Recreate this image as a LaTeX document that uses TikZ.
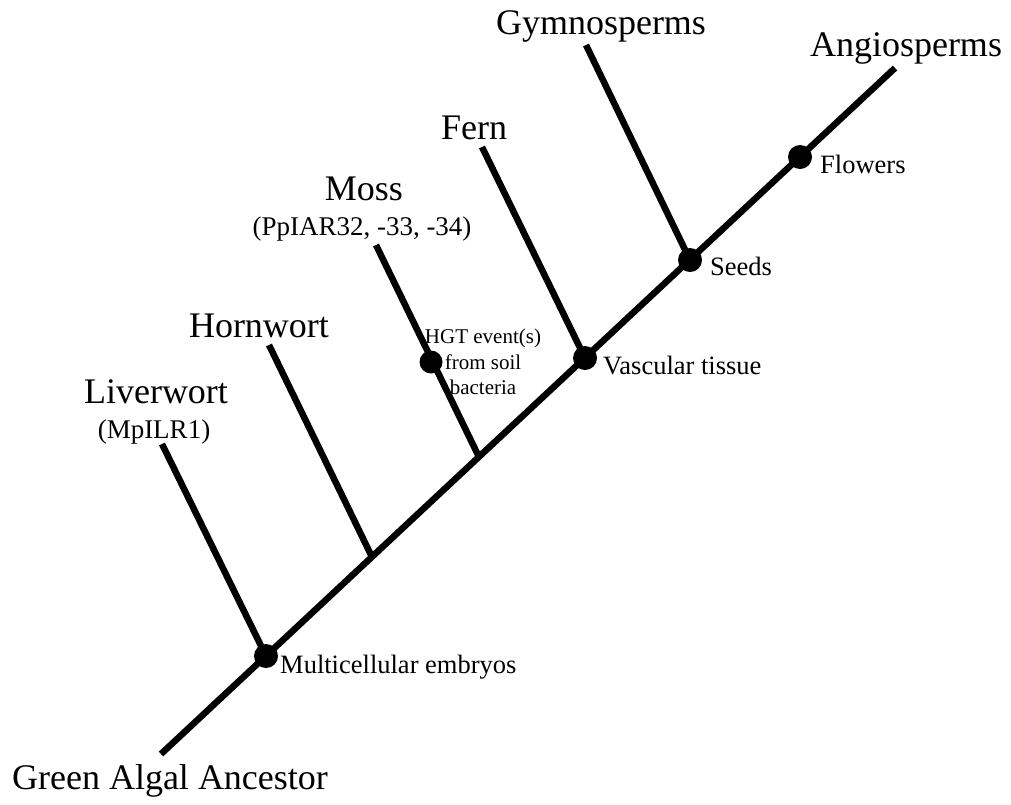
\documentclass[tikz,border=0pt]{standalone}
\usepackage{fontspec}
\setmainfont{Liberation Serif}
\begin{document}
\begin{tikzpicture}[x=1pt,y=-1pt,
  branch/.style={line width=6.5pt},
  dot/.style={circle,fill=black,inner sep=0pt,minimum size=24pt},
  big/.style={font=\fontsize{36}{40}\selectfont,anchor=base,inner sep=0pt},
  sub/.style={font=\fontsize{27}{30}\selectfont,anchor=base,inner sep=0pt},
  small/.style={font=\fontsize{26.5}{30}\selectfont,anchor=base west,inner sep=0pt},
  tiny/.style={font=\fontsize{21}{25.5}\selectfont,anchor=base,inner sep=0pt}]
\useasboundingbox (0,0) rectangle (1011,804);
% main stem
\coordinate (root) at (161,754);
\coordinate (top) at (895,68);
\coordinate (emb) at (266,656);
\coordinate (jh) at (372,557);
\coordinate (jm) at (479,457);
\coordinate (vas) at (585,358);
\coordinate (seed) at (690,260);
\coordinate (flw) at (800,157);
% branch tips
\coordinate (tl) at (162,444);
\coordinate (th) at (269,345);
\coordinate (tm) at (376,245);
\coordinate (tf) at (482,147);
\coordinate (tg) at (586,45);
\coordinate (hgt) at (431,362);
\draw[branch] (root) -- (top);
\draw[branch] (tl) -- (emb);
\draw[branch] (th) -- (jh);
\draw[branch] (tm) -- (jm);
\draw[branch] (tf) -- (vas);
\draw[branch] (tg) -- (seed);
\node[dot] (dEmb) at (emb) {};
\node[dot] (dVas) at (vas) {};
\node[dot] (dSeed) at (seed) {};
\node[dot] (dFlw) at (flw) {};
\node[dot,minimum size=23pt] (dHgt) at (hgt) {};
% taxa labels
\node[big] (lGreen) at (170,789) {Green Algal Ancestor};
\node[big] (lLiver) at (156,403) {Liverwort};
\node[sub] (lLiverG) at (154,438) {(MpILR1)};
\node[big] (lHorn) at (259,337) {Hornwort};
\node[big] (lMoss) at (364,200) {Moss};
\node[sub] (lMossG) at (362,235) {(PpIAR32, -33, -34)};
\node[big] (lFern) at (474,139) {Fern};
\node[big] (lGymno) at (601,34) {Gymnosperms};
\node[big] (lAngio) at (906,56) {Angiosperms};
% trait labels
\node[small] (tEmb) at (280,673) {Multicellular embryos};
\node[small] (tVas) at (603,374) {Vascular tissue};
\node[small] (tSeed) at (710,275) {Seeds};
\node[small] (tFlw) at (820,173) {Flowers};
\node[tiny] (tH1) at (483,343) {HGT event(s)};
\node[tiny] (tH2) at (483,369) {from soil};
\node[tiny] (tH3) at (483,394) {bacteria};
\end{tikzpicture}
\end{document}
